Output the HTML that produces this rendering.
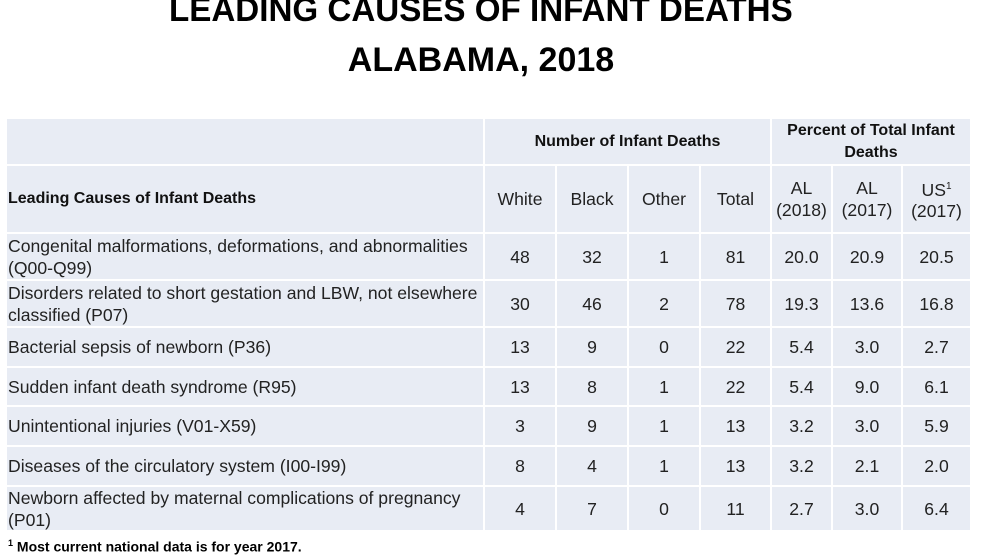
<!DOCTYPE html>
<html><head><style>
body{margin:0;width:986px;height:555px;overflow:hidden;background:#fff;font-family:"Liberation Sans",sans-serif;color:#222;position:relative}
.t{position:absolute;left:0;width:962px;text-align:center;font-weight:bold;font-size:34px;color:#000;white-space:nowrap}
.c{position:absolute;background:#e8ecf4;box-sizing:border-box;display:flex;align-items:center;font-size:17.6px;line-height:22px}
.n{justify-content:center;text-align:center}
.b{font-weight:bold;color:#111;font-size:16px}
.l{padding-left:1px}
</style></head><body>
<div class="t" style="top:-9px"><span style="display:inline-block;transform:scaleX(0.975)">LEADING CAUSES OF INFANT DEATHS</span></div>
<div class="t" style="top:41px"><span style="display:inline-block;transform:scaleX(1.0)">ALABAMA, 2018</span></div>
<div id="tbl"></div>
<div style="position:absolute;left:8px;top:538px;font-size:14px;font-weight:bold;color:#000"><sup style="font-size:9px">1</sup> Most current national data is for year 2017.</div>
<script>
var xs=[7,485,557,629,701,772,833,903,970];
var ys=[119,166,234,281,328,368,407,447,487,532];
var h='';
function cell(x1,x2,y1,y2,txt,cls){h+='<div class="c '+cls+'" style="left:'+x1+'px;top:'+y1+'px;width:'+(x2-x1-2)+'px;height:'+(y2-y1-2)+'px">'+txt+'</div>';}
cell(xs[0],xs[1],ys[0],ys[1],'','');
cell(xs[1],xs[5],ys[0],ys[1],'Number of Infant Deaths','n b');
cell(xs[5],xs[8]+2,ys[0],ys[1],'<div>Percent of Total Infant<br>Deaths</div>','n b');
cell(xs[0],xs[1],ys[1],ys[2],'Leading Causes of Infant Deaths','b l');
var hd=['White','Black','Other','Total','AL<br>(2018)','AL<br>(2017)','US<sup style="font-size:10px">1</sup><br>(2017)'];
for(var i=0;i<7;i++)cell(xs[i+1],i==6?xs[8]+2:xs[i+2],ys[1],ys[2],'<div>'+hd[i]+'</div>','n');
var rows=[
['Congenital malformations, deformations, and abnormalities<br>(Q00-Q99)',48,32,1,81,'20.0','20.9','20.5'],
['Disorders related to short gestation and LBW, not elsewhere<br>classified (P07)',30,46,2,78,'19.3','13.6','16.8'],
['Bacterial sepsis of newborn (P36)',13,9,0,22,'5.4','3.0','2.7'],
['Sudden infant death syndrome (R95)',13,8,1,22,'5.4','9.0','6.1'],
['Unintentional injuries (V01-X59)',3,9,1,13,'3.2','3.0','5.9'],
['Diseases of the circulatory system (I00-I99)',8,4,1,13,'3.2','2.1','2.0'],
['Newborn affected by maternal complications of pregnancy<br>(P01)',4,7,0,11,'2.7','3.0','6.4']];
for(var r=0;r<rows.length;r++){
 cell(xs[0],xs[1],ys[r+2],ys[r+3],'<div style="white-space:nowrap">'+rows[r][0]+'</div>','l');
 for(var i=1;i<8;i++)cell(xs[i],i==7?xs[8]+2:xs[i+1],ys[r+2],ys[r+3],rows[r][i],'n');
}
document.getElementById('tbl').innerHTML=h;
</script>
</body></html>
